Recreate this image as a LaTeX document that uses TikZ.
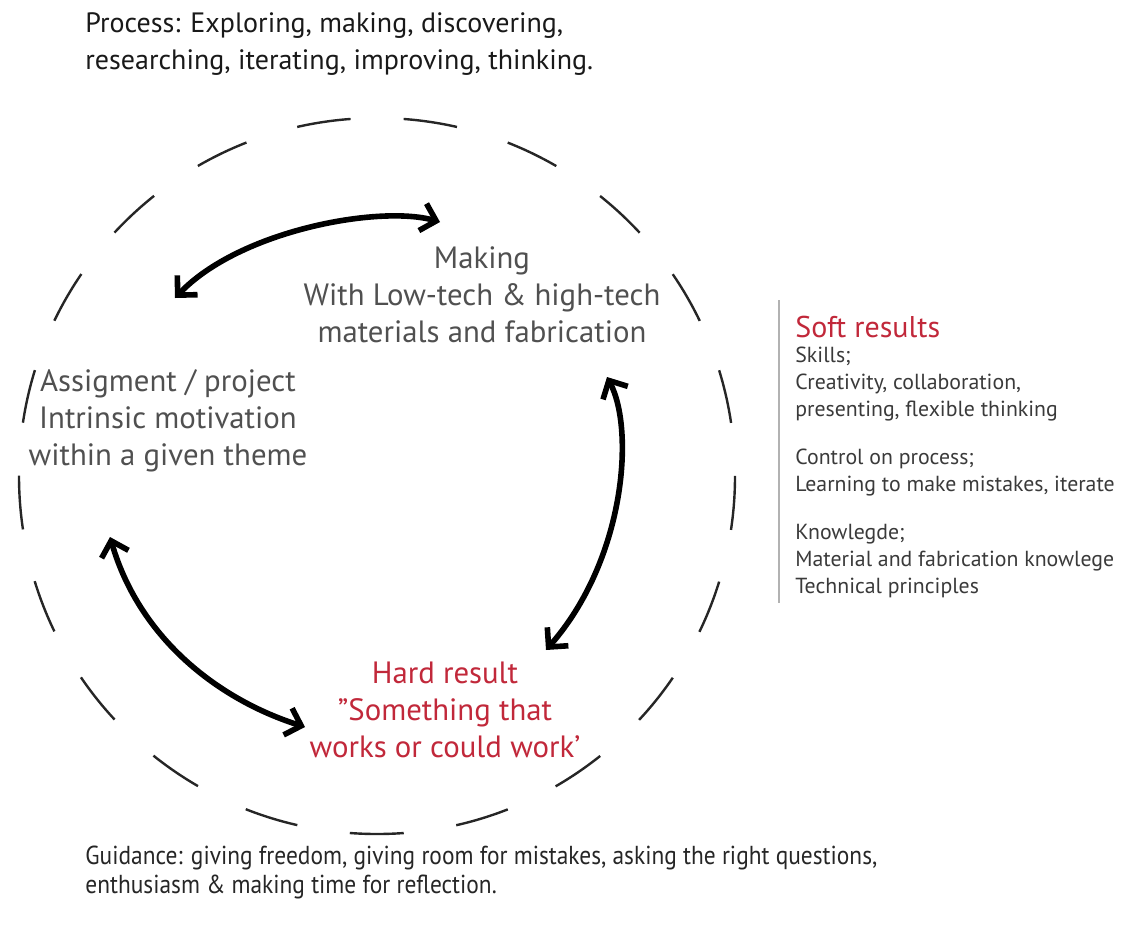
\documentclass[tikz,border=0pt]{standalone}
\usepackage{fontspec}
\setmainfont{PT Sans}
\newfontfamily\narrowfont[FakeStretch=0.9]{PT Sans}
\usetikzlibrary{arrows.meta,positioning}
\definecolor{hardred}{HTML}{C1283A}
\definecolor{inkgray}{HTML}{505050}
\definecolor{softgray}{HTML}{3A3A3A}

\begin{document}
\begin{tikzpicture}[x=0.5pt,y=-0.5pt]
        \tikzstyle{ring}=[line width=1.2pt, black!85, dash pattern=on 27pt off 26.557pt, dash phase=26.9pt];
        \tikzstyle{loop arrow}=[line width=2.8pt, line cap=round, {Straight Barb[length=7pt,width=14pt]}-{Straight Barb[length=7pt,width=14pt]}];
        \tikzstyle{bigtext}=[align=center, inner sep=0pt, text=inkgray, font=\fontsize{15.4}{18.5}\selectfont];
        \tikzstyle{toptext}=[align=left, inner sep=0pt, text=black!90, font=\fontsize{14}{18.5}\selectfont];
        \tikzstyle{softhead}=[inner sep=0pt, text=hardred, font=\fontsize{15}{16}\selectfont];
        \tikzstyle{softtext}=[align=left, inner sep=0pt, text=softgray, font=\fontsize{10.9}{13.3}\selectfont];
        \tikzstyle{guide}=[align=left, inner sep=0pt, text=black!85, font=\narrowfont\fontsize{13}{14.2}\selectfont];

        \useasboundingbox (0,0) rectangle (1123,927);

        \draw[ring] (377,476) circle[radius=179pt];

        \node[toptext, anchor=north west] (process) at (85,12) {Process: Exploring, making, discovering,\\researching, iterating, improving, thinking.};
        \node[bigtext] (making) at (482,295) {Making\\With Low-tech \& high-tech\\materials and fabrication};
        \node[bigtext] (assign) at (168,421) {Assigment / project\\Intrinsic motivation\\within a given theme};
        \node[bigtext, text=hardred] (hard) at (445,710) {Hard result\\”Something that\\works or could work’};

        \coordinate (mkleft) at (175,298);
        \coordinate (mkright) at (440,222);
        \coordinate (mktop) at (607,377);
        \coordinate (hdtop) at (546,650);
        \coordinate (asbot) at (110,537);
        \coordinate (hdleft) at (305,727);
        \draw[loop arrow] (mkleft) .. controls (240,230) and (380,205) .. (mkright);
        \draw[loop arrow] (mktop) .. controls (635,430) and (625,560) .. (hdtop);
        \draw[loop arrow] (asbot) .. controls (140,640) and (220,700) .. (hdleft);

        \node[softhead, anchor=west] (softtitle) at (795,327) {Soft results};
        \node[softtext, anchor=north west] (softbody) at (795,347) {Skills;\\Creativity, collaboration,\\presenting, flexible thinking\\[11pt]Control on process;\\Learning to make mistakes, iterate\\[11pt]Knowlegde;\\Material and fabrication knowlege\\Technical principles};
        \coordinate (divtop) at (779,300);
        \coordinate (divbot) at (779,603);
        \draw[black!30, line width=0.6pt] (divtop) -- (divbot);

        \node[guide, anchor=north west] (guidance) at (85,846) {Guidance: giving freedom, giving room for mistakes, asking the right questions,\\enthusiasm \& making time for reflection.};
\end{tikzpicture}
\end{document}
